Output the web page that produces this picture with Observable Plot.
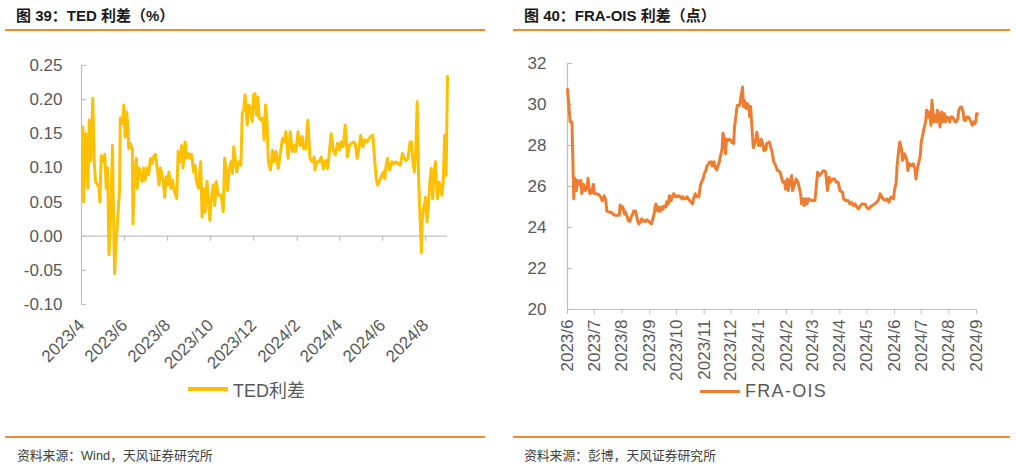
<!DOCTYPE html>
<html><head><meta charset="utf-8">
<script src="https://cdn.jsdelivr.net/npm/d3@7"></script>
<script src="https://cdn.jsdelivr.net/npm/@observablehq/plot@0.6"></script>
<style>
body{margin:0;background:#fff;width:1016px;height:465px;overflow:hidden;position:relative;font-family:"Liberation Sans",Arial,"Noto Sans CJK SC",sans-serif;}
.title{position:absolute;top:4px;font-family:"Liberation Sans","Noto Sans CJK SC",sans-serif;font-weight:bold;font-size:15px;color:#1a1a1a;white-space:nowrap;}
.hr{position:absolute;height:2px;background:#F08A2C;}
.src{position:absolute;top:445px;font-family:"Liberation Sans","Noto Sans CJK SC",sans-serif;font-size:12.8px;color:#404040;white-space:nowrap;}
.chart{position:absolute;top:50px;}
.legend{position:absolute;font-size:18px;color:#595959;display:flex;align-items:center;white-space:nowrap;font-family:"Liberation Sans","Noto Sans CJK SC",sans-serif;}
.sw{display:inline-block;width:40px;height:3.5px;margin-right:5px;}
</style></head><body>
<div class="title" style="left:16px">图 39：TED 利差（%）</div>
<div class="hr" style="left:5px;width:480px;top:29px"></div>
<div class="title" style="left:524px">图 40：FRA-OIS 利差（点）</div>
<div class="hr" style="left:513px;width:497px;top:29px"></div>
<div id="ted" class="chart" style="left:0px"></div>
<div id="fra" class="chart" style="left:510px"></div>
<div class="legend" style="left:188px;top:376px"><span class="sw" style="background:#FFC000"></span><span>TED利差</span></div>
<div class="legend" style="left:700px;top:381px;letter-spacing:1.3px"><span class="sw" style="background:#ED7D31"></span><span>FRA-OIS</span></div>
<div class="hr" style="left:5px;width:480px;top:436px"></div>
<div class="hr" style="left:513px;width:497px;top:436px"></div>
<div class="src" style="left:17px">资料来源：Wind，天风证券研究所</div>
<div class="src" style="left:524px">资料来源：彭博，天风证券研究所</div>
<script>
// ---------- TED spread (%) ----------
const tedDates = [
"2023-04-03","2023-04-04","2023-04-07","2023-04-10","2023-04-12","2023-04-14","2023-04-17","2023-04-19","2023-04-21","2023-04-24",
"2023-04-26","2023-04-27","2023-04-29","2023-05-02","2023-05-04","2023-05-06","2023-05-08","2023-05-10","2023-05-13","2023-05-15",
"2023-05-16","2023-05-18","2023-05-20","2023-05-23","2023-05-25","2023-05-26","2023-05-29","2023-05-31","2023-06-02","2023-06-04",
"2023-06-06","2023-06-07","2023-06-09","2023-06-12","2023-06-13","2023-06-15","2023-06-18","2023-06-19","2023-06-22","2023-06-23",
"2023-06-26","2023-06-28","2023-06-30","2023-07-03","2023-07-05","2023-07-08","2023-07-10","2023-07-12","2023-07-15","2023-07-18",
"2023-07-20","2023-07-22","2023-07-24","2023-07-26","2023-07-28","2023-07-30","2023-08-01","2023-08-03","2023-08-06","2023-08-08",
"2023-08-11","2023-08-14","2023-08-16","2023-08-19","2023-08-21","2023-08-23","2023-08-26","2023-08-28","2023-08-31","2023-09-02",
"2023-09-04","2023-09-07","2023-09-09","2023-09-11","2023-09-14","2023-09-17","2023-09-19","2023-09-21","2023-09-23","2023-09-26",
"2023-09-28","2023-09-30","2023-10-02","2023-10-05","2023-10-07","2023-10-09","2023-10-12","2023-10-16","2023-10-19","2023-10-21",
"2023-10-23","2023-10-25","2023-10-27","2023-10-30","2023-11-01","2023-11-03","2023-11-05","2023-11-07","2023-11-10","2023-11-13",
"2023-11-15","2023-11-17","2023-11-19","2023-11-22","2023-11-24","2023-11-27","2023-11-29","2023-12-01","2023-12-03","2023-12-05",
"2023-12-07","2023-12-09","2023-12-12","2023-12-14","2023-12-16","2023-12-18","2023-12-20","2023-12-22","2023-12-25","2023-12-28",
"2023-12-30","2024-01-02","2024-01-05","2024-01-08","2024-01-11","2024-01-13","2024-01-16","2024-01-19","2024-01-22","2024-01-25",
"2024-01-28","2024-01-30","2024-02-02","2024-02-05","2024-02-08","2024-02-10","2024-02-13","2024-02-16","2024-02-19","2024-02-22",
"2024-02-25","2024-02-26","2024-02-29","2024-03-03","2024-03-06","2024-03-09","2024-03-12","2024-03-15","2024-03-18","2024-03-20",
"2024-03-23","2024-03-26","2024-03-29","2024-04-01","2024-04-03","2024-04-06","2024-04-09","2024-04-12","2024-04-15","2024-04-18",
"2024-04-21","2024-04-23","2024-04-26","2024-04-29","2024-05-01","2024-05-04","2024-05-07","2024-05-10","2024-05-13","2024-05-15",
"2024-05-18","2024-05-21","2024-05-23","2024-05-25","2024-05-28","2024-05-31","2024-06-02","2024-06-04","2024-06-06","2024-06-08",
"2024-06-11","2024-06-14","2024-06-17","2024-06-20","2024-06-23","2024-06-26","2024-06-29","2024-07-02","2024-07-04","2024-07-07",
"2024-07-10","2024-07-12","2024-07-14","2024-07-16","2024-07-18","2024-07-20","2024-07-22","2024-07-24","2024-07-26","2024-07-27",
"2024-07-29","2024-07-31","2024-08-01","2024-08-03","2024-08-05","2024-08-07","2024-08-09","2024-08-11","2024-08-13","2024-08-15",
"2024-08-17","2024-08-18","2024-08-20","2024-08-22","2024-08-24","2024-08-26","2024-08-28","2024-08-30","2024-09-01"];
const tedValues = [
0.160,0.050,0.150,0.070,0.170,0.110,0.202,0.110,0.080,0.075,
0.070,0.050,0.118,0.110,0.120,0.070,0.100,-0.027,0.050,0.133,
0.050,-0.055,-0.010,0.035,0.070,0.173,0.165,0.192,0.145,0.182,
0.158,0.128,0.136,0.128,0.018,0.094,0.114,0.070,0.100,0.094,
0.080,0.100,0.082,0.100,0.090,0.114,0.106,0.116,0.120,0.094,
0.075,0.100,0.090,0.080,0.057,0.087,0.075,0.094,0.070,0.082,
0.065,0.055,0.124,0.109,0.133,0.100,0.138,0.114,0.121,0.114,
0.120,0.094,0.104,0.080,0.070,0.109,0.028,0.070,0.035,0.080,
0.050,0.023,0.055,0.075,0.045,0.080,0.060,0.060,0.036,0.114,
0.100,0.067,0.094,0.109,0.092,0.131,0.114,0.094,0.109,0.104,
0.180,0.185,0.207,0.163,0.192,0.187,0.168,0.207,0.209,0.177,
0.204,0.173,0.170,0.173,0.141,0.192,0.170,0.109,0.097,0.126,
0.109,0.124,0.099,0.121,0.143,0.138,0.153,0.114,0.153,0.124,
0.133,0.124,0.153,0.133,0.146,0.128,0.128,0.170,0.114,0.109,
0.116,0.097,0.109,0.109,0.116,0.099,0.111,0.099,0.128,0.150,
0.126,0.119,0.136,0.126,0.138,0.131,0.163,0.116,0.133,0.136,
0.138,0.136,0.114,0.133,0.148,0.131,0.141,0.138,0.143,0.146,
0.148,0.109,0.084,0.075,0.082,0.089,0.094,0.084,0.104,0.114,
0.097,0.109,0.106,0.109,0.106,0.104,0.121,0.114,0.111,0.114,
0.138,0.138,0.109,0.094,0.124,0.197,0.084,0.030,-0.024,0.023,
0.040,0.050,0.057,0.021,0.045,0.079,0.099,0.055,0.094,0.109,
0.065,0.055,0.079,0.075,0.060,0.079,0.148,0.089,0.234];
const tedXDomain = ["2023-04-01","2024-09-01"];
const tedXTicks = ["2023-04-01","2023-06-01","2023-08-01","2023-10-01","2023-12-01","2024-02-01","2024-04-01","2024-06-01","2024-08-01"];
const tedYTicks = [-0.10,-0.05,0.00,0.05,0.10,0.15,0.20,0.25];

// ---------- FRA-OIS spread (bp) ----------
const fraDates = [
"2023-06-01","2023-06-03","2023-06-04","2023-06-06","2023-06-07","2023-06-08","2023-06-09","2023-06-11","2023-06-12","2023-06-14",
"2023-06-16","2023-06-17","2023-06-19","2023-06-21","2023-06-23","2023-06-24","2023-06-26","2023-06-28","2023-06-30","2023-07-01",
"2023-07-03","2023-07-06","2023-07-08","2023-07-10","2023-07-12","2023-07-14","2023-07-15","2023-07-18","2023-07-20","2023-07-22",
"2023-07-24","2023-07-26","2023-07-29","2023-07-30","2023-08-01","2023-08-02","2023-08-04","2023-08-05","2023-08-07","2023-08-08",
"2023-08-10","2023-08-11","2023-08-13","2023-08-14","2023-08-16","2023-08-17","2023-08-19","2023-08-20","2023-08-22","2023-08-23",
"2023-08-25","2023-08-26","2023-08-28","2023-08-29","2023-08-31","2023-09-01","2023-09-03","2023-09-04","2023-09-06","2023-09-07",
"2023-09-08","2023-09-10","2023-09-11","2023-09-13","2023-09-14","2023-09-16","2023-09-17","2023-09-19","2023-09-20","2023-09-22",
"2023-09-23","2023-09-25","2023-09-26","2023-09-28","2023-09-29","2023-10-01","2023-10-02","2023-10-04","2023-10-05","2023-10-07",
"2023-10-08","2023-10-10","2023-10-11","2023-10-13","2023-10-14","2023-10-16","2023-10-17","2023-10-19","2023-10-20","2023-10-22",
"2023-10-23","2023-10-25","2023-10-26","2023-10-28","2023-10-29","2023-10-31","2023-11-01","2023-11-03","2023-11-04","2023-11-06",
"2023-11-07","2023-11-09","2023-11-10","2023-11-12","2023-11-13","2023-11-15","2023-11-16","2023-11-18","2023-11-19","2023-11-21",
"2023-11-22","2023-11-24","2023-11-25","2023-11-26","2023-11-28","2023-11-29","2023-12-01","2023-12-02","2023-12-04","2023-12-05",
"2023-12-07","2023-12-08","2023-12-10","2023-12-11","2023-12-12","2023-12-14","2023-12-15","2023-12-16","2023-12-18","2023-12-19",
"2023-12-21","2023-12-22","2023-12-23","2023-12-24","2023-12-26","2023-12-27","2023-12-29","2023-12-30","2024-01-01","2024-01-02",
"2024-01-03","2024-01-04","2024-01-06","2024-01-07","2024-01-09","2024-01-10","2024-01-13","2024-01-16","2024-01-18","2024-01-20",
"2024-01-22","2024-01-23","2024-01-25","2024-01-28","2024-01-30","2024-01-31","2024-02-02","2024-02-03","2024-02-05","2024-02-07",
"2024-02-08","2024-02-11","2024-02-12","2024-02-14","2024-02-17","2024-02-18","2024-02-20","2024-02-21","2024-02-23","2024-02-24",
"2024-02-26","2024-02-29","2024-03-02","2024-03-04","2024-03-06","2024-03-07","2024-03-09","2024-03-12","2024-03-14","2024-03-16",
"2024-03-18","2024-03-20","2024-03-21","2024-03-24","2024-03-26","2024-03-28","2024-03-30","2024-04-01","2024-04-04","2024-04-05",
"2024-04-07","2024-04-10","2024-04-12","2024-04-14","2024-04-16","2024-04-18","2024-04-20","2024-04-22","2024-04-24","2024-04-26",
"2024-04-29","2024-05-01","2024-05-03","2024-05-05","2024-05-07","2024-05-10","2024-05-12","2024-05-14","2024-05-16","2024-05-17",
"2024-05-19","2024-05-22","2024-05-24","2024-05-26","2024-05-28","2024-05-31","2024-06-01","2024-06-03","2024-06-04","2024-06-06",
"2024-06-07","2024-06-09","2024-06-10","2024-06-12","2024-06-13","2024-06-15","2024-06-16","2024-06-18","2024-06-19","2024-06-21",
"2024-06-22","2024-06-24","2024-06-25","2024-06-27","2024-06-28","2024-06-30","2024-07-01","2024-07-03","2024-07-04","2024-07-06",
"2024-07-07","2024-07-09","2024-07-10","2024-07-12","2024-07-13","2024-07-15","2024-07-16","2024-07-18","2024-07-19","2024-07-21",
"2024-07-22","2024-07-24","2024-07-25","2024-07-27","2024-07-28","2024-07-30","2024-07-31","2024-08-02","2024-08-03","2024-08-05",
"2024-08-06","2024-08-08","2024-08-09","2024-08-11","2024-08-12","2024-08-14","2024-08-15","2024-08-17","2024-08-18","2024-08-20",
"2024-08-21","2024-08-23","2024-08-24","2024-08-26","2024-08-27","2024-08-29","2024-08-30","2024-08-31","2024-09-01","2024-09-02"];
const fraValues = [
30.73,29.7,29.15,29.15,27.3,25.4,26.4,25.8,26.3,26.1,
26.3,25.65,26.1,25.8,25.97,26.4,25.65,25.7,26.1,25.65,
25.65,25.6,25.5,25.3,25.55,25.3,24.8,24.75,24.75,24.65,
24.6,24.6,24.6,25.1,24.9,25.0,24.65,24.75,24.5,24.33,
24.3,24.5,24.65,24.8,24.8,24.65,24.25,24.17,24.3,24.42,
24.3,24.33,24.3,24.37,24.3,24.25,24.17,24.33,24.65,25.0,
25.15,24.8,25.0,24.8,25.0,24.9,25.05,25.0,25.25,25.15,
25.55,25.3,25.5,25.65,25.5,25.55,25.5,25.55,25.5,25.4,
25.5,25.4,25.4,25.5,25.4,25.3,25.25,25.15,25.4,25.65,
25.5,25.55,25.5,26.1,26.2,26.4,26.6,26.8,27.0,27.1,
27.2,27.2,27.0,27.2,26.95,26.8,26.95,27.2,27.45,27.8,
28.6,28.3,27.6,28.3,28.25,28.3,28.25,28.15,28.1,28.9,
29.6,29.95,29.95,30.0,30.35,30.85,29.9,30.2,29.8,30.05,
29.9,29.4,29.9,29.2,27.9,28.0,28.3,28.65,28.0,28.25,
28.0,28.3,28.0,27.75,27.8,28.1,28.17,27.68,27.19,27.03,
26.78,26.78,26.7,26.21,26.24,25.88,26.37,25.8,26.21,26.54,
25.8,26.21,26.37,26.21,25.64,25.15,25.4,25.07,25.4,25.15,
25.4,25.32,25.32,25.32,26.21,26.7,26.54,26.7,26.78,26.7,
25.8,26.45,26.21,26.37,26.37,26.21,26.21,25.8,25.72,25.4,
25.32,25.32,25.15,25.23,25.07,25.15,24.99,24.91,25.07,25.15,
25.15,24.99,24.91,24.99,25.07,25.15,25.23,25.32,25.64,25.56,
25.4,25.32,25.4,25.23,25.48,25.4,25.8,26.21,27.03,27.84,
28.17,27.84,27.27,27.6,27.52,27.27,26.78,27.11,27.03,27.03,
27.11,26.86,26.37,26.94,27.11,27.52,28.17,28.58,28.82,29.15,
29.72,29.39,29.64,28.99,30.21,29.15,29.47,29.15,29.72,29.47,
28.9,29.64,29.15,29.55,29.15,29.39,29.31,29.15,29.39,29.39,
29.31,29.15,29.15,29.31,29.72,29.88,29.88,29.64,29.23,29.23,
29.39,29.39,29.31,29.15,28.99,29.15,29.07,29.15,29.55,29.55];
const fraXDomain = ["2023-06-01","2024-09-02"];
const fraXTicks = ["2023-06-01","2023-07-01","2023-08-01","2023-09-01","2023-10-01","2023-11-01","2023-12-01","2024-01-01",
"2024-02-01","2024-03-01","2024-04-01","2024-05-01","2024-06-01","2024-07-01","2024-08-01","2024-09-01"];
const fraYTicks = [20,22,24,26,28,30,32];

// ---------- drawing ----------
const GRAY = "#BFBFBF";
const LABEL = "#595959";
const parse = d3.utcParse("%Y-%m-%d");
const fmtM = d3.utcFormat("%Y/%-m");
const baseStyle = {fontFamily: "'Liberation Sans', Arial, sans-serif", fontSize: "17px", color: LABEL, background: "transparent", overflow: "visible"};

const ted = tedDates.map((d, i) => ({date: parse(d), value: tedValues[i]}));
const tedDom = tedXDomain.map(parse);
const tedT = tedXTicks.map(parse);
const tedPlot = Plot.plot({
  width: 500, height: 330,
  marginLeft: 81, marginRight: 53, marginTop: 15, marginBottom: 76,
  style: baseStyle,
  x: {type: "utc", domain: tedDom},
  y: {domain: [-0.10, 0.25]},
  marks: [
    Plot.ruleX([tedDom[0]], {stroke: GRAY, strokeWidth: 1.2}),
    Plot.ruleY(tedYTicks, {x1: () => tedDom[0], x2: () => tedDom[0], insetRight: -5, stroke: GRAY, strokeWidth: 1.2}),
    Plot.ruleY([0], {stroke: GRAY, strokeWidth: 1.2}),
    Plot.ruleX(tedT, {x: d => d, y1: 0, y2: 0, insetBottom: -5, stroke: GRAY, strokeWidth: 1.2}),
    Plot.axisY({ticks: tedYTicks, tickFormat: d => d.toFixed(2), tickSize: 0, tickPadding: 19, label: null, fill: LABEL}),
    Plot.axisX({ticks: tedT, tickFormat: fmtM, tickSize: 0, tickRotate: -45, tickPadding: 18, label: null, fill: LABEL}),
    Plot.line(ted, {x: "date", y: "value", stroke: "#FFC000", strokeWidth: 3, strokeLinejoin: "round"})
  ]
});
document.getElementById("ted").appendChild(tedPlot);

const fra = fraDates.map((d, i) => ({date: parse(d), value: fraValues[i]}));
const fraDom = fraXDomain.map(parse);
const fraT = fraXTicks.map(parse);
const fraPlot = Plot.plot({
  width: 506, height: 340,
  marginLeft: 57, marginRight: 39, marginTop: 13, marginBottom: 81,
  style: baseStyle,
  x: {type: "utc", domain: fraDom},
  y: {domain: [20, 32]},
  marks: [
    Plot.ruleX([fraDom[0]], {stroke: GRAY, strokeWidth: 1.2}),
    Plot.ruleY(fraYTicks, {x1: () => fraDom[0], x2: () => fraDom[0], insetRight: -5, stroke: GRAY, strokeWidth: 1.2}),
    Plot.ruleY([20], {stroke: GRAY, strokeWidth: 1.2}),
    Plot.axisY({ticks: fraYTicks, tickSize: 0, tickPadding: 21, label: null, fill: LABEL}),
    Plot.axisX({ticks: fraT, tickFormat: fmtM, tickSize: 5, stroke: GRAY, tickRotate: -90, tickPadding: 5, label: null, fill: LABEL}),
    Plot.line(fra, {x: "date", y: "value", stroke: "#ED7D31", strokeWidth: 3, strokeLinejoin: "round"})
  ]
});
document.getElementById("fra").appendChild(fraPlot);
</script>
</body></html>
